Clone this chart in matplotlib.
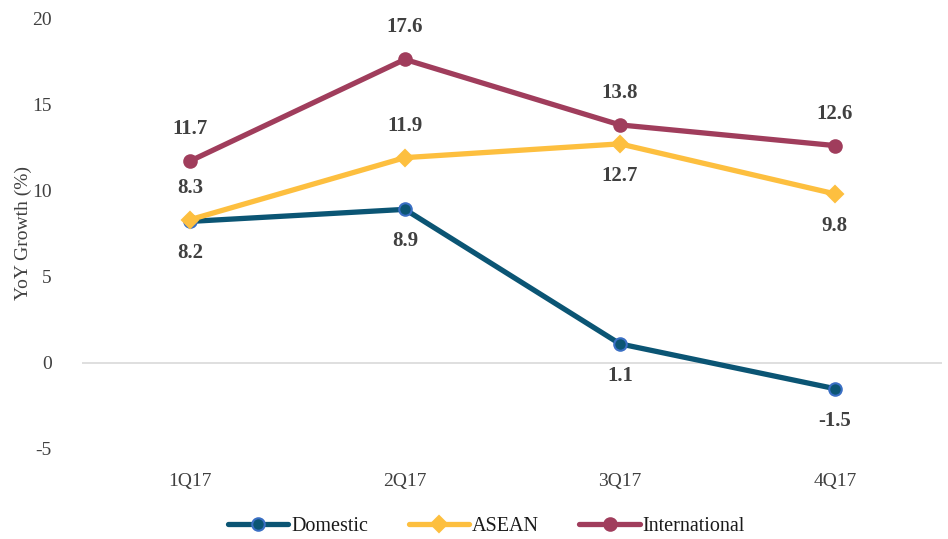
import matplotlib.pyplot as plt
import numpy as np

plt.rcParams['font.family'] = ['Liberation Serif', 'DejaVu Serif']
plt.rcParams['axes.unicode_minus'] = False

quarters = ["1Q17", "2Q17", "3Q17", "4Q17"]
domestic = [8.2, 8.9, 1.1, -1.5]
asean = [8.3, 11.9, 12.7, 9.8]
international = [11.7, 17.6, 13.8, 12.6]

# label placement: +1 above, -1 below
domestic_pos = [-1, -1, -1, -1]
asean_pos = [1, 1, -1, -1]
international_pos = [1, 1, 1, 1]

txt = "#404040"
fig = plt.figure(figsize=(9.48, 5.39), dpi=100)
ax = fig.add_axes([0.087, 0.167, 0.907, 0.7996])

x = np.arange(len(quarters))
series = [
    ("Domestic", domestic, domestic_pos, "#0B5574", "o", "#3A6FC4"),
    ("ASEAN", asean, asean_pos, "#FDBF3F", "D", "#FDBF3F"),
    ("International", international, international_pos, "#A03D5C", "o", "#A03D5C"),
]
for name, vals, pos, col, mk, edge in series:
    ms = 9 if mk == "o" else 8
    ax.plot(x, vals, color=col, lw=3.8, marker=mk, ms=ms, mfc=col, mec=edge, mew=1.5,
            label=name, solid_capstyle="round", zorder=3)
    for xi, v, p in zip(x, vals, pos):
        ax.annotate(f"{v:.1f}", (xi, v), xytext=(0, 32 * p), textcoords="offset pixels",
                    ha="center", va="center", fontsize=15, fontweight="bold", color=txt)

ax.set_xlim(-0.5, 3.5)
ax.set_ylim(-5, 20)
ax.set_yticks([-5, 0, 5, 10, 15, 20])
ax.axhline(0, color="#D9D9D9", lw=1.2, zorder=1)
for s in ax.spines.values():
    s.set_visible(False)
ax.tick_params(length=0, labelsize=14, labelcolor=txt)
ax.tick_params(axis="y", pad=22)
ax.set_xticks(x)
ax.set_xticklabels(quarters)
ax.tick_params(axis="x", pad=17)
ax.set_ylabel("YoY Growth (%)", fontsize=14, color=txt, labelpad=0)

ax.legend(loc="upper center", bbox_to_anchor=(0.47, -0.115), ncol=3, frameon=False,
          fontsize=14.5, handlelength=3.0, columnspacing=2.0, handletextpad=0.15,
          labelcolor="#1a1a1a")

fig.savefig("out.png", dpi=100)
